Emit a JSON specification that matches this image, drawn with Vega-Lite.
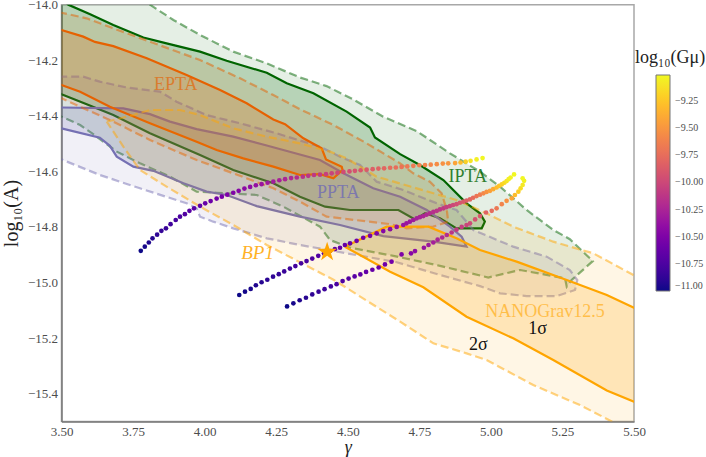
{
  "$schema": "https://vega.github.io/schema/vega-lite/v6.json",
  "width": 572.5,
  "height": 416.7,
  "autosize": {"type": "none"},
  "padding": {"left": 61.5, "top": 4.7, "right": 72, "bottom": 35.6},
  "background": "white",
  "config": {
    "font": "Liberation Serif",
    "view": {"stroke": "#a8a8a8", "strokeWidth": 1.5},
    "axis": {"grid": false, "ticks": false, "labelFlush": false, "labelBound": false, "labelPadding": 4, "domainColor": "#777777", "domainWidth": 1.5, "labelColor": "#4d4d4d", "labelFontSize": 13, "titleColor": "#222222", "titleFont": "Liberation Serif", "titleFontWeight": "normal"}
  },
  "datasets": {
    "ipta2": [
      {"gamma":3.45,"logA":-13.7},{"gamma":3.809,"logA":-14.0},{"gamma":3.891,"logA":-14.055},{"gamma":3.984,"logA":-14.109},{"gamma":4.1,"logA":-14.169},{"gamma":4.217,"logA":-14.211},{"gamma":4.333,"logA":-14.262},{"gamma":4.426,"logA":-14.293},{"gamma":4.519,"logA":-14.341},{"gamma":4.624,"logA":-14.403},{"gamma":4.741,"logA":-14.455},{"gamma":4.857,"logA":-14.535},{"gamma":4.962,"logA":-14.601},{"gamma":5.032,"logA":-14.655},{"gamma":5.125,"logA":-14.739},{"gamma":5.218,"logA":-14.811},{"gamma":5.276,"logA":-14.844},{"gamma":5.356,"logA":-14.923},{"gamma":5.282,"logA":-14.991},{"gamma":5.265,"logA":-15.015},{"gamma":5.259,"logA":-14.985},{"gamma":5.102,"logA":-14.955},{"gamma":4.991,"logA":-14.982},{"gamma":4.822,"logA":-14.94},{"gamma":4.659,"logA":-14.904},{"gamma":4.508,"logA":-14.875},{"gamma":4.438,"logA":-14.847},{"gamma":4.403,"logA":-14.799},{"gamma":4.275,"logA":-14.727},{"gamma":4.182,"logA":-14.685},{"gamma":4.042,"logA":-14.677},{"gamma":3.972,"logA":-14.673},{"gamma":3.879,"logA":-14.619},{"gamma":3.774,"logA":-14.571},{"gamma":3.693,"logA":-14.529},{"gamma":3.623,"logA":-14.475},{"gamma":3.565,"logA":-14.433},{"gamma":3.5,"logA":-14.403},{"gamma":3.45,"logA":-14.38},{"gamma":3.45,"logA":-13.7}
    ],
    "ipta1": [
      {"gamma":3.45,"logA":-13.93},{"gamma":3.524,"logA":-14.0},{"gamma":3.6,"logA":-14.034},{"gamma":3.681,"logA":-14.073},{"gamma":3.786,"logA":-14.118},{"gamma":3.867,"logA":-14.139},{"gamma":3.984,"logA":-14.169},{"gamma":4.077,"logA":-14.202},{"gamma":4.217,"logA":-14.245},{"gamma":4.287,"logA":-14.283},{"gamma":4.38,"logA":-14.319},{"gamma":4.496,"logA":-14.385},{"gamma":4.578,"logA":-14.442},{"gamma":4.595,"logA":-14.478},{"gamma":4.683,"logA":-14.538},{"gamma":4.752,"logA":-14.577},{"gamma":4.834,"logA":-14.631},{"gamma":4.915,"logA":-14.715},{"gamma":4.962,"logA":-14.751},{"gamma":4.979,"logA":-14.781},{"gamma":4.968,"logA":-14.805},{"gamma":4.88,"logA":-14.805},{"gamma":4.822,"logA":-14.769},{"gamma":4.77,"logA":-14.751},{"gamma":4.735,"logA":-14.773},{"gamma":4.677,"logA":-14.739},{"gamma":4.508,"logA":-14.739},{"gamma":4.421,"logA":-14.727},{"gamma":4.333,"logA":-14.691},{"gamma":4.24,"logA":-14.643},{"gamma":4.1,"logA":-14.595},{"gamma":3.984,"logA":-14.541},{"gamma":3.809,"logA":-14.463},{"gamma":3.681,"logA":-14.397},{"gamma":3.588,"logA":-14.358},{"gamma":3.5,"logA":-14.322},{"gamma":3.45,"logA":-14.3},{"gamma":3.45,"logA":-13.93}
    ],
    "ppta2": [
      {"gamma":3.45,"logA":-14.259},{"gamma":3.5,"logA":-14.259},{"gamma":3.576,"logA":-14.259},{"gamma":3.634,"logA":-14.277},{"gamma":3.728,"logA":-14.298},{"gamma":3.844,"logA":-14.313},{"gamma":3.902,"logA":-14.349},{"gamma":4.007,"logA":-14.397},{"gamma":4.124,"logA":-14.427},{"gamma":4.252,"logA":-14.463},{"gamma":4.403,"logA":-14.511},{"gamma":4.473,"logA":-14.547},{"gamma":4.543,"logA":-14.577},{"gamma":4.601,"logA":-14.637},{"gamma":4.694,"logA":-14.667},{"gamma":4.811,"logA":-14.715},{"gamma":4.88,"logA":-14.739},{"gamma":4.91,"logA":-14.775},{"gamma":4.939,"logA":-14.811},{"gamma":5.078,"logA":-14.871},{"gamma":5.195,"logA":-14.907},{"gamma":5.276,"logA":-14.955},{"gamma":5.302,"logA":-14.991},{"gamma":5.294,"logA":-15.027},{"gamma":5.23,"logA":-15.049},{"gamma":5.125,"logA":-15.049},{"gamma":5.032,"logA":-15.039},{"gamma":4.962,"logA":-15.013},{"gamma":4.822,"logA":-14.973},{"gamma":4.671,"logA":-14.927},{"gamma":4.333,"logA":-14.865},{"gamma":4.217,"logA":-14.841},{"gamma":4.1,"logA":-14.805},{"gamma":4.03,"logA":-14.781},{"gamma":3.984,"logA":-14.763},{"gamma":3.972,"logA":-14.733},{"gamma":3.937,"logA":-14.715},{"gamma":3.774,"logA":-14.661},{"gamma":3.634,"logA":-14.613},{"gamma":3.5,"logA":-14.557},{"gamma":3.45,"logA":-14.54},{"gamma":3.45,"logA":-14.259}
    ],
    "ppta1": [
      {"gamma":3.45,"logA":-14.37},{"gamma":3.5,"logA":-14.37},{"gamma":3.716,"logA":-14.373},{"gamma":3.809,"logA":-14.394},{"gamma":3.879,"logA":-14.421},{"gamma":3.972,"logA":-14.448},{"gamma":4.1,"logA":-14.475},{"gamma":4.217,"logA":-14.507},{"gamma":4.403,"logA":-14.559},{"gamma":4.485,"logA":-14.607},{"gamma":4.589,"logA":-14.661},{"gamma":4.683,"logA":-14.691},{"gamma":4.776,"logA":-14.739},{"gamma":4.857,"logA":-14.799},{"gamma":4.898,"logA":-14.835},{"gamma":4.915,"logA":-14.871},{"gamma":4.799,"logA":-14.853},{"gamma":4.624,"logA":-14.833},{"gamma":4.473,"logA":-14.793},{"gamma":4.333,"logA":-14.763},{"gamma":4.182,"logA":-14.725},{"gamma":4.077,"logA":-14.685},{"gamma":4.007,"logA":-14.673},{"gamma":3.926,"logA":-14.643},{"gamma":3.821,"logA":-14.598},{"gamma":3.751,"logA":-14.583},{"gamma":3.693,"logA":-14.547},{"gamma":3.669,"logA":-14.508},{"gamma":3.634,"logA":-14.479},{"gamma":3.5,"logA":-14.445},{"gamma":3.45,"logA":-14.43},{"gamma":3.45,"logA":-14.37}
    ],
    "epta2": [
      {"gamma":3.45,"logA":-14.02},{"gamma":3.5,"logA":-14.029},{"gamma":3.588,"logA":-14.049},{"gamma":3.681,"logA":-14.085},{"gamma":3.809,"logA":-14.133},{"gamma":3.984,"logA":-14.199},{"gamma":4.124,"logA":-14.265},{"gamma":4.24,"logA":-14.325},{"gamma":4.333,"logA":-14.376},{"gamma":4.45,"logA":-14.433},{"gamma":4.566,"logA":-14.499},{"gamma":4.683,"logA":-14.571},{"gamma":4.729,"logA":-14.607},{"gamma":4.787,"logA":-14.637},{"gamma":4.828,"logA":-14.679},{"gamma":4.846,"logA":-14.739},{"gamma":4.851,"logA":-14.781},{"gamma":4.799,"logA":-14.799},{"gamma":4.706,"logA":-14.805},{"gamma":4.648,"logA":-14.79},{"gamma":4.426,"logA":-14.763},{"gamma":4.333,"logA":-14.709},{"gamma":4.24,"logA":-14.661},{"gamma":4.1,"logA":-14.607},{"gamma":3.972,"logA":-14.559},{"gamma":3.809,"logA":-14.487},{"gamma":3.681,"logA":-14.421},{"gamma":3.5,"logA":-14.337},{"gamma":3.45,"logA":-14.32},{"gamma":3.45,"logA":-14.02}
    ],
    "epta1": [
      {"gamma":3.45,"logA":-14.08},{"gamma":3.5,"logA":-14.091},{"gamma":3.576,"logA":-14.115},{"gamma":3.617,"logA":-14.134},{"gamma":3.681,"logA":-14.149},{"gamma":3.798,"logA":-14.193},{"gamma":3.937,"logA":-14.253},{"gamma":4.054,"logA":-14.307},{"gamma":4.147,"logA":-14.355},{"gamma":4.24,"logA":-14.413},{"gamma":4.281,"logA":-14.43},{"gamma":4.345,"logA":-14.481},{"gamma":4.409,"logA":-14.517},{"gamma":4.424,"logA":-14.557},{"gamma":4.479,"logA":-14.583},{"gamma":4.482,"logA":-14.595},{"gamma":4.45,"logA":-14.625},{"gamma":4.403,"logA":-14.61},{"gamma":4.333,"logA":-14.613},{"gamma":4.24,"logA":-14.583},{"gamma":4.135,"logA":-14.553},{"gamma":4.042,"logA":-14.523},{"gamma":3.972,"logA":-14.493},{"gamma":3.809,"logA":-14.427},{"gamma":3.669,"logA":-14.367},{"gamma":3.565,"logA":-14.313},{"gamma":3.5,"logA":-14.289},{"gamma":3.45,"logA":-14.27},{"gamma":3.45,"logA":-14.08}
    ],
    "nano2": [
      {"gamma":3.658,"logA":-14.421},{"gamma":3.751,"logA":-14.397},{"gamma":3.809,"logA":-14.379},{"gamma":3.914,"logA":-14.379},{"gamma":3.984,"logA":-14.397},{"gamma":4.1,"logA":-14.445},{"gamma":4.217,"logA":-14.475},{"gamma":4.333,"logA":-14.499},{"gamma":4.438,"logA":-14.529},{"gamma":4.496,"logA":-14.553},{"gamma":4.601,"logA":-14.619},{"gamma":4.741,"logA":-14.661},{"gamma":4.88,"logA":-14.703},{"gamma":4.985,"logA":-14.751},{"gamma":5.078,"logA":-14.799},{"gamma":5.218,"logA":-14.853},{"gamma":5.358,"logA":-14.895},{"gamma":5.498,"logA":-14.973},{"gamma":5.55,"logA":-15.0},{"gamma":5.55,"logA":-15.58},{"gamma":5.422,"logA":-15.5},{"gamma":5.311,"logA":-15.441},{"gamma":5.148,"logA":-15.369},{"gamma":4.985,"logA":-15.279},{"gamma":4.915,"logA":-15.255},{"gamma":4.799,"logA":-15.219},{"gamma":4.683,"logA":-15.141},{"gamma":4.45,"logA":-14.99},{"gamma":4.217,"logA":-14.865},{"gamma":4.1,"logA":-14.793},{"gamma":3.984,"logA":-14.727},{"gamma":3.867,"logA":-14.655},{"gamma":3.774,"logA":-14.595},{"gamma":3.716,"logA":-14.511},{"gamma":3.658,"logA":-14.421}
    ],
    "nano1": [
      {"gamma":4.49,"logA":-14.871},{"gamma":4.636,"logA":-14.799},{"gamma":4.782,"logA":-14.799},{"gamma":4.88,"logA":-14.841},{"gamma":4.962,"logA":-14.883},{"gamma":5.09,"logA":-14.925},{"gamma":5.265,"logA":-14.991},{"gamma":5.405,"logA":-15.045},{"gamma":5.498,"logA":-15.09},{"gamma":5.55,"logA":-15.113},{"gamma":5.55,"logA":-15.45},{"gamma":5.5,"logA":-15.429},{"gamma":5.405,"logA":-15.389},{"gamma":5.218,"logA":-15.279},{"gamma":5.078,"logA":-15.201},{"gamma":4.915,"logA":-15.123},{"gamma":4.764,"logA":-15.017},{"gamma":4.648,"logA":-14.961},{"gamma":4.49,"logA":-14.871}
    ],
    "strings": [
      {"gamma":3.777,"logA":-14.886,"logGmu":-11.0},{"gamma":3.791,"logA":-14.871,"logGmu":-10.97},{"gamma":3.805,"logA":-14.856,"logGmu":-10.95},{"gamma":3.818,"logA":-14.841,"logGmu":-10.92},{"gamma":3.834,"logA":-14.828,"logGmu":-10.89},{"gamma":3.849,"logA":-14.814,"logGmu":-10.86},{"gamma":3.865,"logA":-14.805,"logGmu":-10.84},{"gamma":3.881,"logA":-14.79,"logGmu":-10.81},{"gamma":3.899,"logA":-14.775,"logGmu":-10.78},{"gamma":3.914,"logA":-14.763,"logGmu":-10.76},{"gamma":3.931,"logA":-14.754,"logGmu":-10.73},{"gamma":3.947,"logA":-14.742,"logGmu":-10.7},{"gamma":3.963,"logA":-14.733,"logGmu":-10.68},{"gamma":3.984,"logA":-14.724,"logGmu":-10.65},{"gamma":4.002,"logA":-14.715,"logGmu":-10.62},{"gamma":4.021,"logA":-14.707,"logGmu":-10.59},{"gamma":4.042,"logA":-14.698,"logGmu":-10.57},{"gamma":4.06,"logA":-14.691,"logGmu":-10.54},{"gamma":4.079,"logA":-14.684,"logGmu":-10.51},{"gamma":4.1,"logA":-14.677,"logGmu":-10.49},{"gamma":4.119,"logA":-14.67,"logGmu":-10.46},{"gamma":4.139,"logA":-14.662,"logGmu":-10.43},{"gamma":4.159,"logA":-14.656,"logGmu":-10.41},{"gamma":4.179,"logA":-14.65,"logGmu":-10.38},{"gamma":4.199,"logA":-14.646,"logGmu":-10.35},{"gamma":4.22,"logA":-14.641,"logGmu":-10.32},{"gamma":4.24,"logA":-14.637,"logGmu":-10.3},{"gamma":4.261,"logA":-14.632,"logGmu":-10.27},{"gamma":4.281,"logA":-14.628,"logGmu":-10.24},{"gamma":4.302,"logA":-14.624,"logGmu":-10.22},{"gamma":4.322,"logA":-14.622,"logGmu":-10.19},{"gamma":4.343,"logA":-14.619,"logGmu":-10.16},{"gamma":4.362,"logA":-14.616,"logGmu":-10.14},{"gamma":4.382,"logA":-14.613,"logGmu":-10.11},{"gamma":4.403,"logA":-14.612,"logGmu":-10.08},{"gamma":4.424,"logA":-14.61,"logGmu":-10.05},{"gamma":4.444,"logA":-14.607,"logGmu":-10.03},{"gamma":4.464,"logA":-14.605,"logGmu":-10.0},{"gamma":4.485,"logA":-14.602,"logGmu":-9.97},{"gamma":4.506,"logA":-14.6,"logGmu":-9.95},{"gamma":4.525,"logA":-14.598,"logGmu":-9.92},{"gamma":4.545,"logA":-14.596,"logGmu":-9.9},{"gamma":4.566,"logA":-14.594,"logGmu":-9.87},{"gamma":4.587,"logA":-14.592,"logGmu":-9.84},{"gamma":4.607,"logA":-14.59,"logGmu":-9.82},{"gamma":4.627,"logA":-14.589,"logGmu":-9.79},{"gamma":4.648,"logA":-14.587,"logGmu":-9.76},{"gamma":4.668,"logA":-14.586,"logGmu":-9.74},{"gamma":4.688,"logA":-14.584,"logGmu":-9.71},{"gamma":4.708,"logA":-14.582,"logGmu":-9.68},{"gamma":4.729,"logA":-14.58,"logGmu":-9.66},{"gamma":4.75,"logA":-14.578,"logGmu":-9.63},{"gamma":4.77,"logA":-14.577,"logGmu":-9.61},{"gamma":4.79,"logA":-14.576,"logGmu":-9.58},{"gamma":4.811,"logA":-14.574,"logGmu":-9.55},{"gamma":4.832,"logA":-14.572,"logGmu":-9.53},{"gamma":4.851,"logA":-14.571,"logGmu":-9.5},{"gamma":4.875,"logA":-14.57,"logGmu":-9.42},{"gamma":4.894,"logA":-14.568,"logGmu":-9.3},{"gamma":4.912,"logA":-14.565,"logGmu":-9.2},{"gamma":4.929,"logA":-14.562,"logGmu":-9.1},{"gamma":4.95,"logA":-14.557,"logGmu":-9.05},{"gamma":4.971,"logA":-14.552,"logGmu":-9.02},
      {"gamma":4.121,"logA":-15.045,"logGmu":-11.0},{"gamma":4.141,"logA":-15.033,"logGmu":-10.98},{"gamma":4.161,"logA":-15.023,"logGmu":-10.96},{"gamma":4.179,"logA":-15.01,"logGmu":-10.94},{"gamma":4.199,"logA":-14.999,"logGmu":-10.92},{"gamma":4.219,"logA":-14.99,"logGmu":-10.9},{"gamma":4.239,"logA":-14.979,"logGmu":-10.88},{"gamma":4.259,"logA":-14.97,"logGmu":-10.86},{"gamma":4.278,"logA":-14.96,"logGmu":-10.84},{"gamma":4.298,"logA":-14.95,"logGmu":-10.82},{"gamma":4.317,"logA":-14.941,"logGmu":-10.8},{"gamma":4.337,"logA":-14.931,"logGmu":-10.78},{"gamma":4.356,"logA":-14.923,"logGmu":-10.76},{"gamma":4.376,"logA":-14.914,"logGmu":-10.74},{"gamma":4.397,"logA":-14.904,"logGmu":-10.72},{"gamma":4.417,"logA":-14.895,"logGmu":-10.7},{"gamma":4.438,"logA":-14.887,"logGmu":-10.68},{"gamma":4.455,"logA":-14.88,"logGmu":-10.66},{"gamma":4.473,"logA":-14.875,"logGmu":-10.64},{"gamma":4.49,"logA":-14.865,"logGmu":-10.62},{"gamma":4.508,"logA":-14.859,"logGmu":-10.6},{"gamma":4.531,"logA":-14.85,"logGmu":-10.58},{"gamma":4.554,"logA":-14.839,"logGmu":-10.55},{"gamma":4.578,"logA":-14.832,"logGmu":-10.52},{"gamma":4.601,"logA":-14.823,"logGmu":-10.49},{"gamma":4.624,"logA":-14.815,"logGmu":-10.46},{"gamma":4.648,"logA":-14.808,"logGmu":-10.43},{"gamma":4.671,"logA":-14.8,"logGmu":-10.4},{"gamma":4.694,"logA":-14.793,"logGmu":-10.37},{"gamma":4.705,"logA":-14.787,"logGmu":-10.35},{"gamma":4.717,"logA":-14.781,"logGmu":-10.33},{"gamma":4.729,"logA":-14.775,"logGmu":-10.31},{"gamma":4.741,"logA":-14.769,"logGmu":-10.28},{"gamma":4.752,"logA":-14.765,"logGmu":-10.26},{"gamma":4.764,"logA":-14.761,"logGmu":-10.24},{"gamma":4.775,"logA":-14.756,"logGmu":-10.22},{"gamma":4.787,"logA":-14.751,"logGmu":-10.19},{"gamma":4.799,"logA":-14.746,"logGmu":-10.17},{"gamma":4.811,"logA":-14.742,"logGmu":-10.14},{"gamma":4.822,"logA":-14.737,"logGmu":-10.12},{"gamma":4.834,"logA":-14.733,"logGmu":-10.09},{"gamma":4.845,"logA":-14.729,"logGmu":-10.06},{"gamma":4.857,"logA":-14.725,"logGmu":-10.03},{"gamma":4.868,"logA":-14.721,"logGmu":-10.0},{"gamma":4.88,"logA":-14.718,"logGmu":-9.96},{"gamma":4.892,"logA":-14.713,"logGmu":-9.92},{"gamma":4.904,"logA":-14.709,"logGmu":-9.88},{"gamma":4.915,"logA":-14.705,"logGmu":-9.84},{"gamma":4.927,"logA":-14.701,"logGmu":-9.8},{"gamma":4.938,"logA":-14.695,"logGmu":-9.75},{"gamma":4.95,"logA":-14.689,"logGmu":-9.7},{"gamma":4.962,"logA":-14.684,"logGmu":-9.65},{"gamma":4.974,"logA":-14.679,"logGmu":-9.58},{"gamma":4.985,"logA":-14.674,"logGmu":-9.52},{"gamma":4.997,"logA":-14.67,"logGmu":-9.45},{"gamma":5.008,"logA":-14.664,"logGmu":-9.38},{"gamma":5.02,"logA":-14.658,"logGmu":-9.3},{"gamma":5.029,"logA":-14.652,"logGmu":-9.26},{"gamma":5.038,"logA":-14.647,"logGmu":-9.2},{"gamma":5.047,"logA":-14.641,"logGmu":-9.15},{"gamma":5.055,"logA":-14.635,"logGmu":-9.1},{"gamma":5.062,"logA":-14.628,"logGmu":-9.06},{"gamma":5.069,"logA":-14.622,"logGmu":-9.03},{"gamma":5.081,"logA":-14.611,"logGmu":-9.02},
      {"gamma":4.288,"logA":-15.086,"logGmu":-11.0},{"gamma":4.31,"logA":-15.075,"logGmu":-10.97},{"gamma":4.332,"logA":-15.064,"logGmu":-10.94},{"gamma":4.354,"logA":-15.055,"logGmu":-10.91},{"gamma":4.376,"logA":-15.043,"logGmu":-10.88},{"gamma":4.398,"logA":-15.033,"logGmu":-10.85},{"gamma":4.419,"logA":-15.024,"logGmu":-10.82},{"gamma":4.441,"logA":-15.014,"logGmu":-10.79},{"gamma":4.461,"logA":-15.006,"logGmu":-10.76},{"gamma":4.482,"logA":-14.995,"logGmu":-10.74},{"gamma":4.503,"logA":-14.986,"logGmu":-10.71},{"gamma":4.524,"logA":-14.978,"logGmu":-10.69},{"gamma":4.544,"logA":-14.971,"logGmu":-10.66},{"gamma":4.564,"logA":-14.962,"logGmu":-10.64},{"gamma":4.586,"logA":-14.954,"logGmu":-10.62},{"gamma":4.608,"logA":-14.946,"logGmu":-10.6},{"gamma":4.63,"logA":-14.935,"logGmu":-10.58},{"gamma":4.653,"logA":-14.925,"logGmu":-10.56},{"gamma":4.688,"logA":-14.899,"logGmu":-10.5},{"gamma":4.721,"logA":-14.895,"logGmu":-10.45},{"gamma":4.735,"logA":-14.887,"logGmu":-10.42},{"gamma":4.766,"logA":-14.875,"logGmu":-10.37},{"gamma":4.782,"logA":-14.865,"logGmu":-10.33},{"gamma":4.799,"logA":-14.856,"logGmu":-10.29},{"gamma":4.814,"logA":-14.846,"logGmu":-10.25},{"gamma":4.83,"logA":-14.838,"logGmu":-10.22},{"gamma":4.846,"logA":-14.829,"logGmu":-10.18},{"gamma":4.863,"logA":-14.82,"logGmu":-10.14},{"gamma":4.88,"logA":-14.81,"logGmu":-10.1},{"gamma":4.898,"logA":-14.8,"logGmu":-10.06},{"gamma":4.915,"logA":-14.793,"logGmu":-10.02},{"gamma":4.927,"logA":-14.787,"logGmu":-9.98},{"gamma":4.945,"logA":-14.773,"logGmu":-9.93},{"gamma":4.962,"logA":-14.761,"logGmu":-9.88},{"gamma":4.983,"logA":-14.748,"logGmu":-9.82},{"gamma":5.003,"logA":-14.742,"logGmu":-9.76},{"gamma":5.02,"logA":-14.733,"logGmu":-9.68},{"gamma":5.038,"logA":-14.718,"logGmu":-9.6},{"gamma":5.055,"logA":-14.706,"logGmu":-9.52},{"gamma":5.073,"logA":-14.697,"logGmu":-9.42},{"gamma":5.084,"logA":-14.685,"logGmu":-9.3},{"gamma":5.096,"logA":-14.673,"logGmu":-9.22},{"gamma":5.104,"logA":-14.661,"logGmu":-9.14},{"gamma":5.111,"logA":-14.649,"logGmu":-9.08},{"gamma":5.116,"logA":-14.634,"logGmu":-9.04},{"gamma":5.111,"logA":-14.625,"logGmu":-9.02}
    ]
  },
  "encoding": {
    "x": {"field": "gamma", "type": "quantitative", "scale": {"domain": [3.5, 5.5], "nice": false, "zero": false}, "axis": {"title": "γ", "titleFontSize": 18, "titleFontStyle": "italic", "titlePadding": 0, "values": [3.5, 3.75, 4, 4.25, 4.5, 4.75, 5, 5.25, 5.5], "format": ".2f"}},
    "y": {"field": "logA", "type": "quantitative", "scale": {"domain": [-15.5, -14], "nice": false, "zero": false}, "axis": {"title": "log₁₀(A)", "titleFontSize": 20, "titlePadding": 6, "values": [-14, -14.2, -14.4, -14.6, -14.8, -15, -15.2, -15.4], "format": ".1f"}}
  },
  "layer": [
    {"data": {"name": "ipta2"}, "mark": {"type": "line", "clip": true, "fill": "#006400", "fillOpacity": 0.1, "stroke": "#006400", "strokeOpacity": 0.5, "strokeWidth": 2.2, "strokeDash": [8, 4]}, "encoding": {"order": {"value": null}}},
    {"data": {"name": "ipta1"}, "mark": {"type": "line", "clip": true, "fill": "#006400", "fillOpacity": 0.2, "stroke": "#006400", "strokeWidth": 2.2}, "encoding": {"order": {"value": null}}},
    {"data": {"name": "ppta2"}, "mark": {"type": "line", "clip": true, "fill": "#7570b3", "fillOpacity": 0.1, "stroke": "#7570b3", "strokeOpacity": 0.5, "strokeWidth": 2.2, "strokeDash": [8, 4]}, "encoding": {"order": {"value": null}}},
    {"data": {"name": "ppta1"}, "mark": {"type": "line", "clip": true, "fill": "#7570b3", "fillOpacity": 0.2, "stroke": "#7570b3", "strokeWidth": 2.2}, "encoding": {"order": {"value": null}}},
    {"data": {"name": "epta2"}, "mark": {"type": "line", "clip": true, "fill": "#e66101", "fillOpacity": 0.1, "stroke": "#e66101", "strokeOpacity": 0.5, "strokeWidth": 2.2, "strokeDash": [8, 4]}, "encoding": {"order": {"value": null}}},
    {"data": {"name": "epta1"}, "mark": {"type": "line", "clip": true, "fill": "#e66101", "fillOpacity": 0.2, "stroke": "#e66101", "strokeWidth": 2.2}, "encoding": {"order": {"value": null}}},
    {"data": {"name": "nano2"}, "mark": {"type": "line", "clip": true, "fill": "#ffa500", "fillOpacity": 0.1, "stroke": "#ffa500", "strokeOpacity": 0.5, "strokeWidth": 2.2, "strokeDash": [8, 4]}, "encoding": {"order": {"value": null}}},
    {"data": {"name": "nano1"}, "mark": {"type": "line", "clip": true, "fill": "#ffa500", "fillOpacity": 0.2, "stroke": "#ffa500", "strokeWidth": 2.2}, "encoding": {"order": {"value": null}}},
    {
      "data": {"name": "strings"},
      "mark": {"type": "circle", "size": 22, "opacity": 1},
      "encoding": {
        "color": {"field": "logGmu", "type": "quantitative", "scale": {"scheme": "plasma", "domain": [-11, -9.01]}, "legend": {"orient": "none", "legendX": 594.5, "legendY": 70.3, "title": null, "gradientLength": 216, "gradientThickness": 14, "gradientStrokeColor": "#777777", "gradientStrokeWidth": 1, "values": [-11, -10.75, -10.5, -10.25, -10, -9.75, -9.5, -9.25], "format": ".2f", "labelFontSize": 10, "labelColor": "#4d4d4d", "labelOverlap": false, "labelOffset": 5}}
      }
    },
    {
      "data": {"values": [{"gamma": 4.428, "logA": -14.89}]},
      "mark": {"type": "point", "filled": true, "opacity": 1, "color": "#ffa500", "size": 420, "shape": "M0,-1L0.2245,-0.309L0.951,-0.309L0.363,0.118L0.588,0.809L0,0.382L-0.588,0.809L-0.363,0.118L-0.951,-0.309L-0.2245,-0.309Z"}
    },
    {"data": {"values": [{"gamma": 5.626, "logA": -14.192, "label": "log₁₀(Gμ)"}]}, "mark": {"type": "text", "fontSize": 18, "color": "#222222"}, "encoding": {"text": {"field": "label"}}},
    {"data": {"values": [{"gamma": 3.899, "logA": -14.289, "label": "EPTA"}]}, "mark": {"type": "text", "fontSize": 18, "color": "#e66101", "opacity": 0.65}, "encoding": {"text": {"field": "label"}}},
    {"data": {"values": [{"gamma": 4.467, "logA": -14.679, "label": "PPTA"}]}, "mark": {"type": "text", "fontSize": 18, "color": "#7570b3", "opacity": 0.85}, "encoding": {"text": {"field": "label"}}},
    {"data": {"values": [{"gamma": 4.919, "logA": -14.619, "label": "IPTA"}]}, "mark": {"type": "text", "fontSize": 18, "color": "#006400", "opacity": 0.8}, "encoding": {"text": {"field": "label"}}},
    {"data": {"values": [{"gamma": 4.185, "logA": -14.895, "label": "BP1"}]}, "mark": {"type": "text", "fontSize": 19, "fontStyle": "italic", "color": "#ffa500", "opacity": 0.85}, "encoding": {"text": {"field": "label"}}},
    {"data": {"values": [{"gamma": 5.189, "logA": -15.107, "label": "NANOGrav12.5"}]}, "mark": {"type": "text", "fontSize": 18, "color": "#ffa500", "opacity": 0.6}, "encoding": {"text": {"field": "label"}}},
    {"data": {"values": [{"gamma": 5.163, "logA": -15.169, "label": "1σ"}, {"gamma": 4.956, "logA": -15.225, "label": "2σ"}]}, "mark": {"type": "text", "fontSize": 18, "color": "#111111"}, "encoding": {"text": {"field": "label"}}}
  ]
}
